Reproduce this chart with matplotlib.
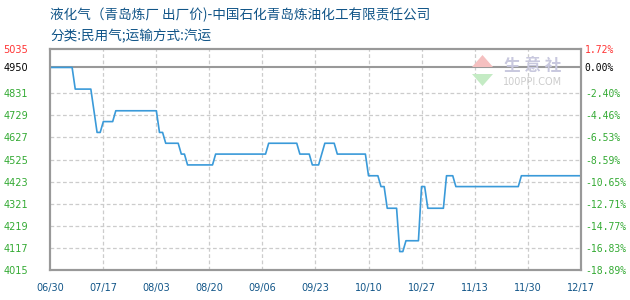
import matplotlib
matplotlib.use('Agg')
import matplotlib.pyplot as plt
from matplotlib.patches import Polygon
import pandas as pd

plt.rcParams['font.family'] = ['Noto Sans CJK SC', 'DejaVu Sans']

# price change points (flat between them)
dates = ['2023-06-30', '2023-07-07', '2023-07-08', '2023-07-13', '2023-07-14',
         '2023-07-15', '2023-07-16', '2023-07-17', '2023-07-20', '2023-07-21',
         '2023-08-03', '2023-08-04', '2023-08-05', '2023-08-06', '2023-08-10',
         '2023-08-11', '2023-08-12', '2023-08-13', '2023-08-21', '2023-08-22',
         '2023-09-07', '2023-09-08', '2023-09-17', '2023-09-18', '2023-09-21',
         '2023-09-22', '2023-09-24', '2023-09-25', '2023-09-26', '2023-09-29',
         '2023-09-30', '2023-10-09', '2023-10-10', '2023-10-13', '2023-10-14',
         '2023-10-15', '2023-10-16', '2023-10-19', '2023-10-20', '2023-10-21',
         '2023-10-22', '2023-10-26', '2023-10-27', '2023-10-28', '2023-10-29',
         '2023-11-03', '2023-11-04', '2023-11-06', '2023-11-07', '2023-11-27',
         '2023-11-28', '2023-12-17']
prices = [4950, 4950, 4850, 4850, 4750,
          4650, 4650, 4700, 4700, 4750,
          4750, 4650, 4650, 4600, 4600,
          4550, 4550, 4500, 4500, 4550,
          4550, 4600, 4600, 4550, 4550,
          4500, 4500, 4550, 4600, 4600,
          4550, 4550, 4450, 4450, 4400,
          4400, 4300, 4300, 4100, 4100,
          4150, 4150, 4400, 4400, 4300,
          4300, 4450, 4450, 4400, 4400,
          4450, 4450]

base_price = 4950
pct_ticks = [1.72, 0.00, -2.40, -4.46, -6.53, -8.59, -10.65, -12.71, -14.77, -16.83, -18.89]
x_ticks = ['2023-06-30', '2023-07-17', '2023-08-03', '2023-08-20', '2023-09-06', '2023-09-23',
           '2023-10-10', '2023-10-27', '2023-11-13', '2023-11-30', '2023-12-17']

title1 = '液化气（青岛炼厂 出厂价)-中国石化青岛炼油化工有限责任公司'
title2 = '分类:民用气;运输方式:汽运'

dt = pd.to_datetime(dates)
xt = pd.to_datetime(x_ticks)
y_ticks = [base_price * (1 + p / 100) for p in pct_ticks]
ymin, ymax = min(y_ticks), max(y_ticks)

fig = plt.figure(figsize=(6.3, 3.0), dpi=100)
ax = fig.add_axes([0.0798, 0.1, 0.8419, 0.7367])

green = '#33aa33'
red = '#ff3333'
blue_txt = '#115588'

# grid
for y in y_ticks[2:-1]:
    ax.axhline(y, color='#cccccc', lw=0.9, ls=(0, (3, 2)), zorder=1)
for x in xt[1:-1]:
    ax.axvline(x, color='#cccccc', lw=0.9, ls=(0, (3, 2)), zorder=1)
ax.axhline(base_price, color='#999999', lw=1.5, zorder=2)

ax.plot(dt, prices, color='#3a9ad9', lw=1.2, zorder=3)

ax.set_xlim(xt[0], xt[-1])
ax.set_ylim(ymin, ymax)
ax.set_xticks(xt)
ax.set_xticklabels([d.strftime('%m/%d') for d in xt], fontsize=7, color=blue_txt,
                   family='DejaVu Sans')
ax.set_yticks(y_ticks)
ax.set_yticklabels(['%d' % round(v) for v in y_ticks], fontsize=7, family='DejaVu Sans')
ax.tick_params(axis='both', length=0)
ax.tick_params(axis='y', pad=16)
ax.tick_params(axis='x', pad=9)

ax2 = ax.twinx()
ax2.set_ylim(ymin, ymax)
ax2.set_yticks(y_ticks)
ax2.set_yticklabels(['%.2f%%' % p for p in pct_ticks], fontsize=7, family='DejaVu Sans Mono')
ax2.tick_params(axis='y', length=0, pad=3)

for a in (ax, ax2):
    for s in a.spines.values():
        s.set_color('#999999')
        s.set_linewidth(1.5)
    for i, lab in enumerate(a.get_yticklabels()):
        if i == 0:
            lab.set_color(red)
        elif i == 1:
            lab.set_color('black')
        else:
            lab.set_color(green)

# watermark logo
fig.add_artist(Polygon([(472 / 630, 1 - 67 / 300), (493 / 630, 1 - 67 / 300),
                        (482.5 / 630, 1 - 55 / 300)], closed=True,
                       transform=fig.transFigure, color='#f5c0c0', lw=0, zorder=0.5))
fig.add_artist(Polygon([(472 / 630, 1 - 74 / 300), (493 / 630, 1 - 74 / 300),
                        (482.5 / 630, 1 - 86 / 300)], closed=True,
                       transform=fig.transFigure, color='#c4ebc4', lw=0, zorder=0.5))
fig.text(0.845, 0.78, '生 意 社', color='#c8c8de', fontsize=12, ha='center', va='center',
         fontweight='bold')
fig.text(0.846, 0.727, '100PPI.COM', color='#cccccc', fontsize=7, ha='center', va='center',
         family='DejaVu Sans')

fig.text(0.0798, 0.95, title1, color=blue_txt, fontsize=9.8, ha='left', va='center')
fig.text(0.0798, 0.88, title2, color=blue_txt, fontsize=9.8, ha='left', va='center')

fig.savefig('out.png', dpi=100)
